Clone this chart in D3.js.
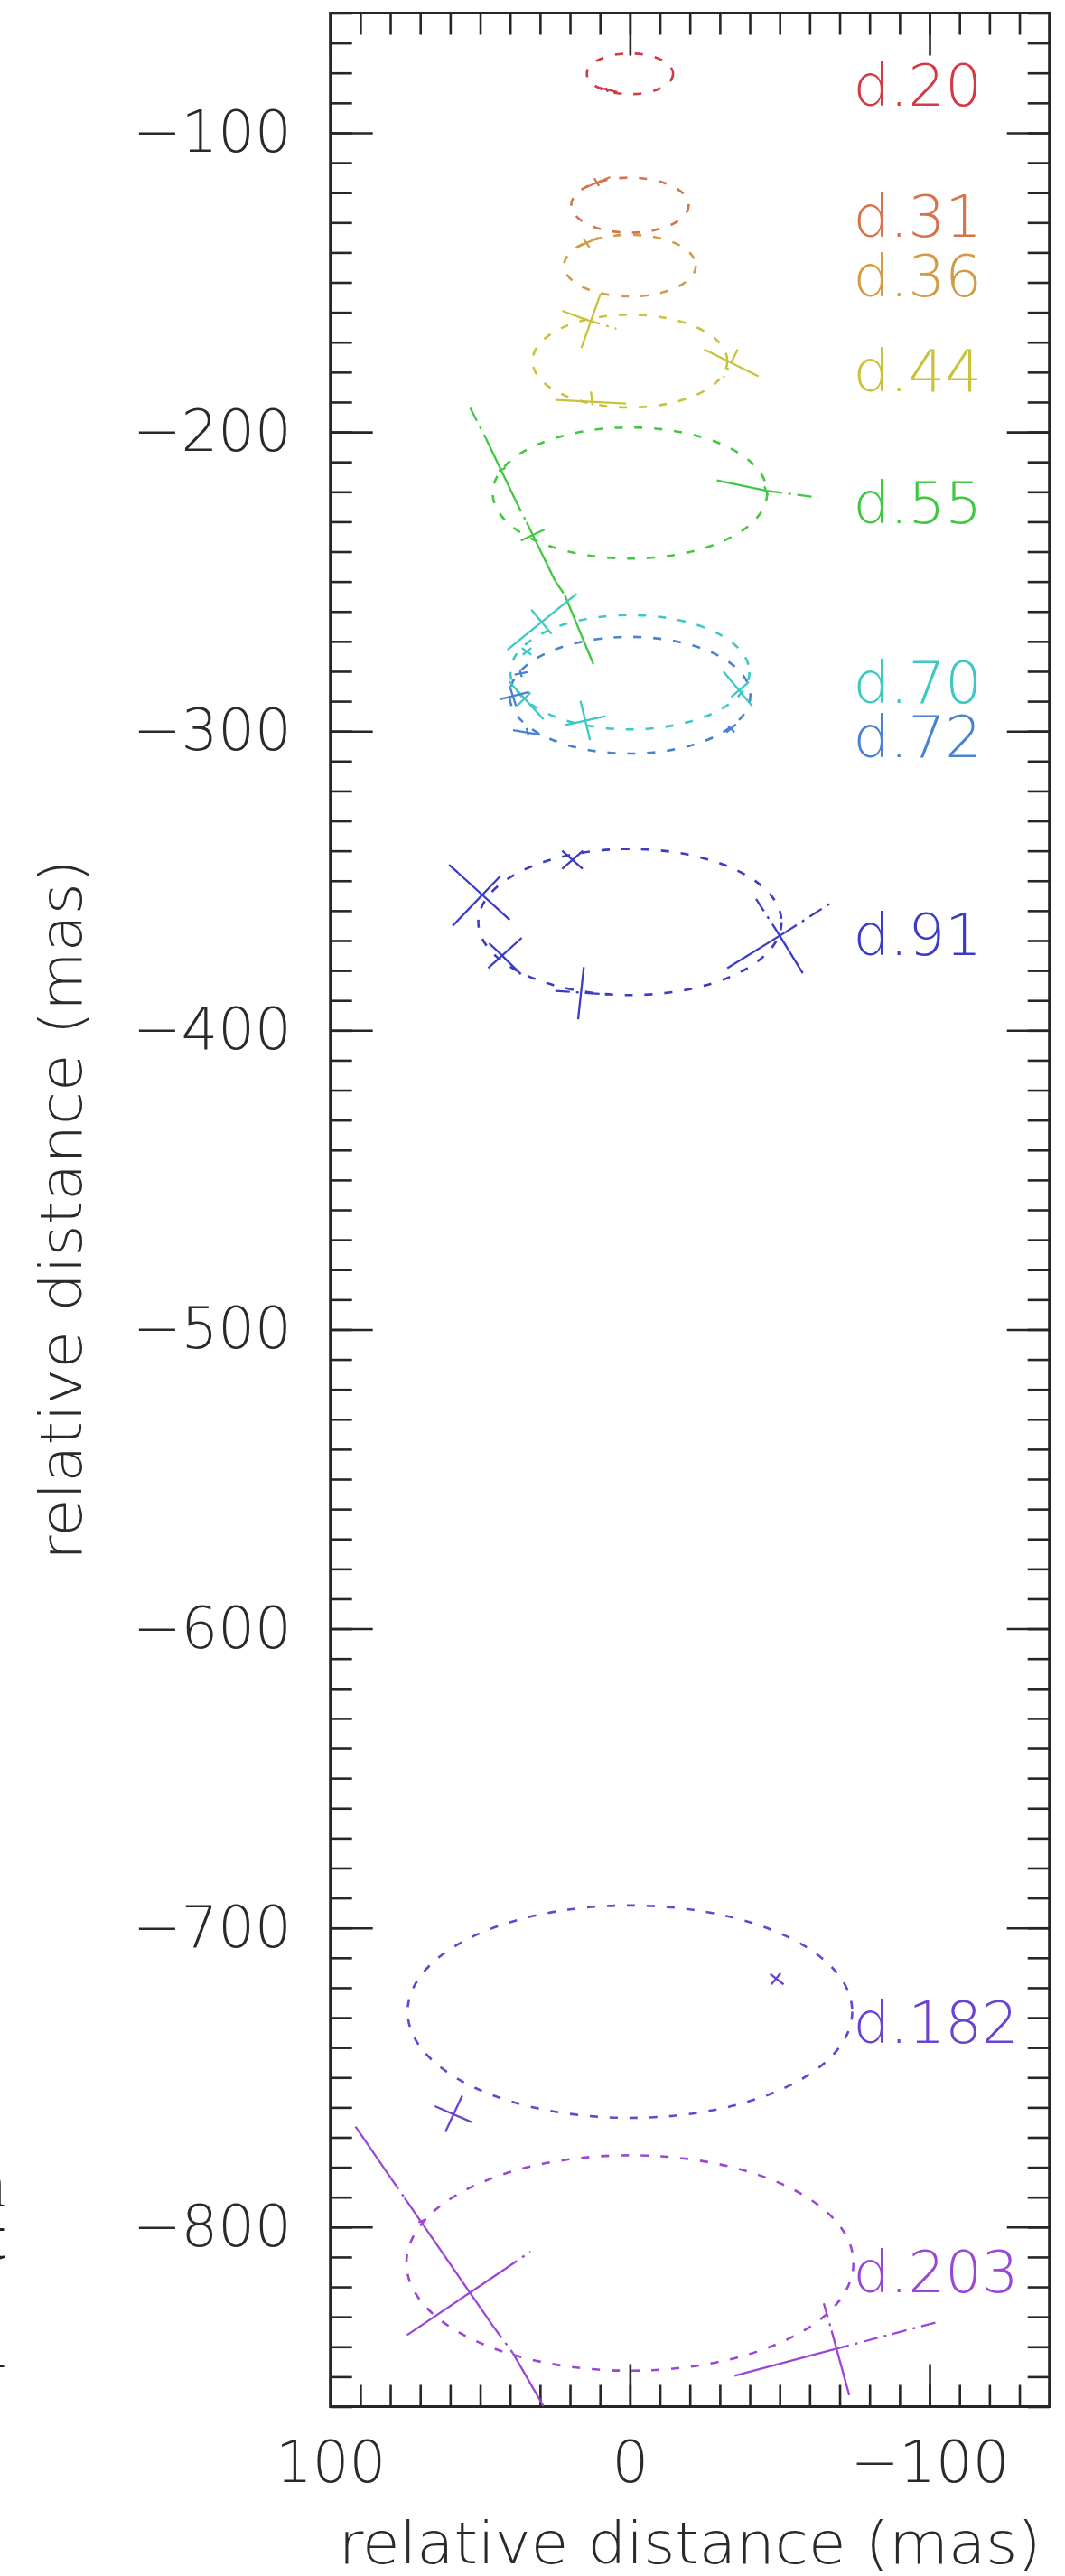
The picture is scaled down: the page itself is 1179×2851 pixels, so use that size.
<!DOCTYPE html>
<html>
<head>
<meta charset="utf-8">
<script src="https://cdn.jsdelivr.net/npm/d3@7"></script>
<style>
  html, body { margin: 0; padding: 0; background: #ffffff; }
  svg { display: block; }
</style>
</head>
<body>
<svg id="chart" width="1179" height="2851"></svg>
<script>
// ---------------- data ----------------
const epochs = ["d.20", "d.31", "d.36", "d.44", "d.55", "d.70", "d.72", "d.91", "d.182", "d.203"];
const ellipseCenterX = [0, 0, 0, 0, 0, 0, 0, 0, 0, 0];
const ellipseCenterY = [-80.3, -124.2, -144.4, -176.3, -220.4, -280.3, -288.0, -363.8, -728.0, -812.0];
const ellipseSemiX   = [14.4, 19.6, 22.0, 32.5, 45.8, 39.9, 40.2, 50.6, 74.2, 74.6];
const ellipseSemiY   = [6.8, 9.2, 10.3, 15.5, 21.9, 19.1, 19.5, 24.4, 35.5, 36.0];
const labelX = [-74.5, -74.5, -74.5, -74.5, -74.5, -74.5, -74.5, -74.5, -74.5, -74.5];
const labelY = [-90.9, -134.7, -154.7, -186.4, -230.4, -290.5, -308.6, -374.8, -738.3, -821.9];

// error-bar segments: [epoch index, x1, y1, x2, y2, line kind ('s' solid, 'd' dash-dot)]
const errorSegments = [
  [0, 10.9, -84.8, 4.2, -86.4, 's'], [0, 8.0, -84.9, 7.4, -86.4, 's'],
  [1, 15.4, -118.5, 6.6, -114.8, 's'], [1, 11.9, -115.2, 10.3, -117.8, 's'],
  [2, 17.8, -138.3, 10.6, -135.1, 's'], [2, 15.4, -135.6, 13.5, -138.3, 's'],
  [3, 9.8, -153.7, 16.2, -171.9, 's'], [3, 22.6, -159.5, 14.6, -162.5, 's'],
  [3, 14.6, -162.5, 4.5, -165.5, 'd'], [3, -24.8, -172.4, -42.9, -181.4, 's'],
  [3, -36.0, -172.4, -31.2, -181.9, 'd'], [3, 24.9, -189.3, 1.3, -190.5, 's'],
  [3, 13.0, -186.5, 12.5, -191.0, 'd'],
  [4, 53.3, -192.0, 48.1, -202.1, 'd'], [4, 48.1, -202.1, 38.5, -222.2, 's'],
  [4, 38.5, -222.2, 34.5, -230.2, 'd'], [4, 34.5, -230.2, 24.9, -249.9, 's'],
  [4, 24.9, -249.9, 21.8, -254.4, 'd'], [4, 21.8, -254.4, 12.2, -277.6, 's'],
  [4, 36.4, -236.3, 28.5, -232.6, 's'], [4, 43.8, -213.0, 41.5, -212.0, 's'],
  [4, -29.0, -216.2, -46.0, -219.7, 's'], [4, -46.0, -219.7, -62.8, -221.9, 'd'],
  [4, -44.9, -218.2, -46.0, -221.2, 's'],
  [5, 40.9, -272.8, 17.8, -254.1, 's'], [5, 32.9, -259.4, 26.2, -267.5, 's'],
  [5, 40.4, -283.3, 28.9, -296.0, 's'], [5, 37.7, -291.6, 33.2, -287.1, 's'],
  [5, 16.5, -289.9, 13.3, -303.0, 's'], [5, 21.8, -298.0, 8.2, -295.0, 's'],
  [5, -31.2, -280.1, -40.8, -291.6, 's'], [5, -33.8, -288.6, -39.7, -283.6, 's'],
  [5, 36.1, -272.2, 32.9, -274.5, 's'], [5, 35.8, -274.5, 32.9, -272.2, 's'],
  [6, 39.0, -299.7, 30.0, -301.2, 's'], [6, 34.5, -299.0, 33.9, -301.4, 's'],
  [6, -32.2, -300.4, -35.4, -297.7, 's'], [6, -32.8, -298.2, -34.9, -300.4, 's'],
  [6, 38.5, -281.1, 34.2, -280.3, 's'], [6, 36.7, -279.6, 36.1, -281.9, 's'],
  [6, 43.3, -289.3, 33.7, -286.9, 's'], [6, 40.1, -285.1, 38.0, -291.6, 's'],
  [7, 59.2, -365.1, 43.3, -348.5, 's'], [7, 57.2, -347.5, 40.1, -363.1, 's'],
  [7, 60.4, -344.7, 57.2, -347.5, 'd'], [7, 22.6, -340.0, 15.8, -346.0, 's'],
  [7, 22.6, -346.0, 15.7, -340.0, 's'], [7, 47.3, -379.2, 36.1, -369.1, 's'],
  [7, 47.0, -370.9, 43.8, -373.9, 'd'], [7, 43.8, -373.9, 36.4, -381.2, 's'],
  [7, 17.3, -396.3, 15.4, -378.9, 's'], [7, 24.9, -386.8, 7.1, -388.0, 'd'],
  [7, -32.5, -379.2, -51.6, -367.4, 's'], [7, -51.6, -367.4, -66.8, -357.6, 'd'],
  [7, -42.1, -356.1, -49.2, -367.1, 'd'], [7, -49.2, -367.1, -57.7, -380.9, 's'],
  [8, -46.8, -715.4, -51.3, -718.9, 's'], [8, -47.2, -718.9, -50.3, -715.1, 's'],
  [8, 61.6, -768.2, 56.0, -756.1, 's'], [8, 65.1, -759.6, 52.9, -764.9, 's'],
  [9, 91.6, -766.4, 80.0, -783.3, 's'], [9, 80.0, -783.3, 75.2, -790.3, 'd'],
  [9, 75.2, -790.3, 45.7, -833.1, 's'], [9, 45.7, -833.1, 39.0, -842.2, 'd'],
  [9, 39.0, -842.2, 28.9, -859.8, 's'], [9, 70.6, -798.4, 68.0, -797.4, 's'],
  [9, 74.4, -836.1, 41.7, -814.0, 's'], [9, 41.7, -814.0, 33.2, -808.2, 'd'],
  [9, -34.9, -849.7, -68.4, -840.8, 's'], [9, -68.4, -840.8, -102.4, -831.8, 'd'],
  [9, -64.7, -825.5, -67.3, -834.6, 'd'], [9, -67.3, -834.6, -73.2, -856.2, 's']
];

const xDomain = [100, -140];
const yDomain = [-60, -860];
const xMajorTicks = [100, 0, -100];
const xTickLabels = ["100", "0", "\u2212100"];
const yMajorTicks = [-100, -200, -300, -400, -500, -600, -700, -800];
const yTickLabels = ["\u2212100", "\u2212200", "\u2212300", "\u2212400", "\u2212500", "\u2212600", "\u2212700", "\u2212800"];
const xMinorTicks = d3.range(-140, 101, 10);
const yMinorTicks = d3.range(-860, -59, 10);
const xTitle = "relative distance (mas)";
const yTitle = "relative distance (mas)";
const marginGlyphs = ["n", "t", "i"];

// ---------------- style ----------------
const colors = ["#d43a44", "#d5734b", "#d49b45", "#c9c23b", "#41c841", "#3cc9c6", "#4a82d2", "#3b3bc6", "#6b43d2", "#9b47d6"];
const axisColor = "#262626";
const fontFamily = "'DejaVu Sans', 'Liberation Sans', sans-serif";
const fontSize = 64;

const W = 1179, H = 2851;
const pLeft = 365.7, pRight = 1161.7, pTop = 14.5, pBottom = 2663.5;

const svg = d3.select("#chart");
svg.append("rect").attr("width", W).attr("height", H).attr("fill", "#fff");

const x = d3.scaleLinear().domain(xDomain).range([pLeft, pRight]);
const y = d3.scaleLinear().domain(yDomain).range([pTop, pBottom]);

svg.append("defs").append("clipPath").attr("id", "plotclip")
  .append("rect").attr("x", pLeft).attr("y", pTop).attr("width", pRight - pLeft).attr("height", pBottom - pTop);

function lightText(sel) {
  sel.attr("font-family", fontFamily)
    .attr("font-weight", 200)
    .attr("font-size", fontSize);
}

// ---------------- ticks ----------------
function styleAxis(g) {
  g.select(".domain").remove();
  g.selectAll(".tick line").attr("stroke", axisColor).attr("stroke-width", 2.6);
  g.selectAll(".tick text").attr("fill", "#2a2a2a").call(lightText);
}

const minorLen = 24, majorLen = 47;

// left
svg.append("g").attr("transform", `translate(${pLeft},0)`)
  .call(d3.axisLeft(y).tickValues(yMinorTicks).tickSize(-minorLen).tickFormat(""))
  .call(styleAxis);
svg.append("g").attr("transform", `translate(${pLeft},0)`)
  .call(d3.axisLeft(y).tickValues(yMajorTicks).tickSize(-majorLen).tickPadding(43)
    .tickFormat((d, i) => yTickLabels[i]))
  .call(styleAxis);
// right
svg.append("g").attr("transform", `translate(${pRight},0)`)
  .call(d3.axisRight(y).tickValues(yMinorTicks).tickSize(-minorLen).tickFormat(""))
  .call(styleAxis);
svg.append("g").attr("transform", `translate(${pRight},0)`)
  .call(d3.axisRight(y).tickValues(yMajorTicks).tickSize(-majorLen).tickFormat(""))
  .call(styleAxis);
// top
svg.append("g").attr("transform", `translate(0,${pTop})`)
  .call(d3.axisTop(x).tickValues(xMinorTicks).tickSize(-minorLen).tickFormat(""))
  .call(styleAxis);
svg.append("g").attr("transform", `translate(0,${pTop})`)
  .call(d3.axisTop(x).tickValues(xMajorTicks).tickSize(-majorLen).tickFormat(""))
  .call(styleAxis);
// bottom
svg.append("g").attr("transform", `translate(0,${pBottom})`)
  .call(d3.axisBottom(x).tickValues(xMinorTicks).tickSize(-minorLen).tickFormat(""))
  .call(styleAxis);
svg.append("g").attr("transform", `translate(0,${pBottom})`)
  .call(d3.axisBottom(x).tickValues(xMajorTicks).tickSize(-majorLen).tickPadding(38)
    .tickFormat((d, i) => xTickLabels[i]))
  .call(styleAxis);

// frame
svg.append("rect")
  .attr("x", pLeft).attr("y", pTop).attr("width", pRight - pLeft).attr("height", pBottom - pTop)
  .attr("fill", "none").attr("stroke", axisColor).attr("stroke-width", 3);

// ---------------- marks ----------------
const plot = svg.append("g").attr("clip-path", "url(#plotclip)");

plot.selectAll("ellipse.orbit").data(epochs).join("ellipse")
  .attr("class", "orbit")
  .attr("cx", (d, i) => x(ellipseCenterX[i]))
  .attr("cy", (d, i) => y(ellipseCenterY[i]))
  .attr("rx", (d, i) => Math.abs(x(ellipseCenterX[i] + ellipseSemiX[i]) - x(ellipseCenterX[i])))
  .attr("ry", (d, i) => Math.abs(y(ellipseCenterY[i] + ellipseSemiY[i]) - y(ellipseCenterY[i])))
  .attr("fill", "none")
  .attr("stroke", (d, i) => colors[i])
  .attr("stroke-width", 2.6)
  .attr("stroke-dasharray", "9,13");

plot.selectAll("line.err").data(errorSegments).join("line")
  .attr("class", "err")
  .attr("x1", d => x(d[1])).attr("y1", d => y(d[2]))
  .attr("x2", d => x(d[3])).attr("y2", d => y(d[4]))
  .attr("stroke", d => colors[d[0]])
  .attr("stroke-width", 2.3)
  .attr("stroke-linecap", "butt")
  .attr("stroke-dasharray", d => d[5] === "d" ? "16,7,3,7" : null);

// epoch labels
svg.selectAll("text.epoch").data(epochs).join("text")
  .attr("class", "epoch")
  .attr("x", (d, i) => x(labelX[i]))
  .attr("y", (d, i) => y(labelY[i]))
  .attr("fill", (d, i) => colors[i])
  .call(lightText)
  .text(d => d);

// axis titles
svg.append("text")
  .attr("x", (pLeft + pRight) / 2).attr("y", 2837)
  .attr("text-anchor", "middle")
  .attr("fill", "#2a2a2a")
  .call(lightText)
  .attr("textLength", 778).attr("lengthAdjust", "spacingAndGlyphs")
  .text(xTitle);

svg.append("text")
  .attr("transform", `translate(90,${(pTop + pBottom) / 2}) rotate(-90)`)
  .attr("text-anchor", "middle")
  .attr("fill", "#2a2a2a")
  .call(lightText)
  .attr("textLength", 776).attr("lengthAdjust", "spacingAndGlyphs")
  .text(yTitle);

// clipped glyphs of neighbouring text at the far left edge
const glyphBaselines = [2442, 2500, 2620];
svg.selectAll("text.margin").data(marginGlyphs).join("text")
  .attr("class", "margin")
  .attr("x", 6).attr("y", (d, i) => glyphBaselines[i])
  .attr("text-anchor", "end")
  .attr("fill", "#222")
  .attr("font-family", "'Liberation Serif', 'DejaVu Serif', serif")
  .attr("font-size", 74)
  .text(d => d);
</script>
</body>
</html>
